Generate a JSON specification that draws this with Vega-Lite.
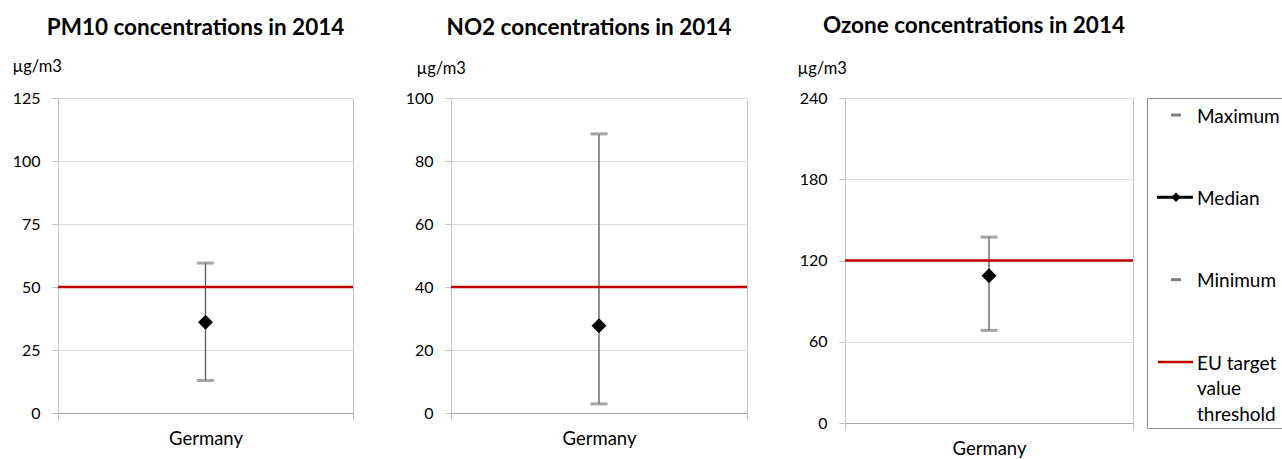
{
  "$schema": "https://vega.github.io/schema/vega-lite/v6.json",
  "background": "white",
  "padding": {"left": 12, "top": 14, "right": 0, "bottom": 0},
  "autosize": {"type": "pad"},
  "config": {
    "font": "Lato",
    "view": {"stroke": null},
    "axisY": {"domain": false, "grid": true, "gridColor": "#d9d9d9", "tickColor": "#bfbfbf", "tickSize": 6, "labelPadding": 12, "labelFontSize": 16, "labelColor": "#000", "titleAngle": 0, "titleAlign": "left", "titleBaseline": "alphabetic", "titleFontWeight": "normal", "titleFontSize": 16.5, "titleColor": "#000"},
    "axisX": {"tickBand": "extent", "grid": true, "gridColor": "#c4c4c4", "tickColor": "#bfbfbf", "tickSize": 7, "domainColor": "#a6a6a6", "labelAngle": 0, "labelPadding": 24, "labelBaseline": "alphabetic", "labelFontSize": 18.5, "labelColor": "#000"},
    "title": {"font": "Lato", "fontSize": 22.5, "fontWeight": "bold", "color": "#000", "frame": "group", "anchor": "middle", "baseline": "alphabetic", "offset": 19}
  },
  "datasets": {
    "stats": [
      {"pollutant": "PM10", "country": "Germany", "min": 12.9, "median": 36, "max": 59.5, "threshold": 50},
      {"pollutant": "NO2", "country": "Germany", "min": 2.9, "median": 27.7, "max": 88.6, "threshold": 40},
      {"pollutant": "Ozone", "country": "Germany", "min": 68.4, "median": 108.7, "max": 137.3, "threshold": 120}
    ],
    "legend": [
      {"label": "Maximum", "kind": "cap"},
      {"label": "Median", "kind": "median"},
      {"label": "Minimum", "kind": "cap"},
      {"label": "EU target\nvalue\nthreshold", "kind": "threshold"}
    ]
  },
  "spacing": 98,
  "bounds": "flush",
  "hconcat": [
    {
      "width": 295, "height": 315,
      "title": {"text": "PM10 concentrations in 2014", "dx": -10},
      "data": {"name": "stats"},
      "transform": [{"filter": "datum.pollutant == 'PM10'"}],
      "layer": [
        {"mark": {"type": "rule", "color": "#595959", "strokeWidth": 1.3},
         "encoding": {
           "x": {"field": "country", "type": "nominal", "title": null, "scale": {"paddingInner": 0, "paddingOuter": 0}},
           "y": {"field": "min", "type": "quantitative", "scale": {"domain": [0, 125], "nice": false}, "axis": {"values": [0, 25, 50, 75, 100, 125], "title": "µg/m3", "titleX": -46, "titleY": -27}},
           "y2": {"field": "max"}}},
        {"mark": {"type": "rule", "color": "#c00000", "strokeWidth": 2.5},
         "encoding": {"y": {"field": "threshold", "type": "quantitative"}}},
        {"mark": {"type": "tick", "color": "#7f7f7f", "thickness": 3, "size": 17, "orient": "horizontal"},
         "encoding": {"x": {"field": "country", "type": "nominal"}, "y": {"field": "max", "type": "quantitative"}}},
        {"mark": {"type": "tick", "color": "#7f7f7f", "thickness": 3, "size": 17, "orient": "horizontal"},
         "encoding": {"x": {"field": "country", "type": "nominal"}, "y": {"field": "min", "type": "quantitative"}}},
        {"mark": {"type": "point", "shape": "diamond", "filled": true, "color": "#000", "size": 225, "opacity": 1},
         "encoding": {"x": {"field": "country", "type": "nominal"}, "y": {"field": "median", "type": "quantitative"}}}
      ]
    },
    {
      "width": 296, "height": 315,
      "title": {"text": "NO2 concentrations in 2014", "dx": -10, "offset": 21},
      "data": {"name": "stats"},
      "transform": [{"filter": "datum.pollutant == 'NO2'"}],
      "layer": [
        {"mark": {"type": "rule", "color": "#595959", "strokeWidth": 1.3},
         "encoding": {
           "x": {"field": "country", "type": "nominal", "title": null, "scale": {"paddingInner": 0, "paddingOuter": 0}},
           "y": {"field": "min", "type": "quantitative", "scale": {"domain": [0, 100], "nice": false}, "axis": {"values": [0, 20, 40, 60, 80, 100], "title": "µg/m3", "titleX": -35, "titleY": -25}},
           "y2": {"field": "max"}}},
        {"mark": {"type": "rule", "color": "#c00000", "strokeWidth": 2.5},
         "encoding": {"y": {"field": "threshold", "type": "quantitative"}}},
        {"mark": {"type": "tick", "color": "#7f7f7f", "thickness": 3, "size": 17, "orient": "horizontal"},
         "encoding": {"x": {"field": "country", "type": "nominal"}, "y": {"field": "max", "type": "quantitative"}}},
        {"mark": {"type": "tick", "color": "#7f7f7f", "thickness": 3, "size": 17, "orient": "horizontal"},
         "encoding": {"x": {"field": "country", "type": "nominal"}, "y": {"field": "min", "type": "quantitative"}}},
        {"mark": {"type": "point", "shape": "diamond", "filled": true, "color": "#000", "size": 225, "opacity": 1},
         "encoding": {"x": {"field": "country", "type": "nominal"}, "y": {"field": "median", "type": "quantitative"}}}
      ]
    },
    {
      "spacing": 14,
      "bounds": "flush",
      "hconcat": [
        {
          "width": 288, "height": 325,
          "title": {"text": "Ozone concentrations in 2014", "dx": -15, "offset": 23},
          "data": {"name": "stats"},
          "transform": [{"filter": "datum.pollutant == 'Ozone'"}],
          "layer": [
            {"mark": {"type": "rule", "color": "#595959", "strokeWidth": 1.3},
             "encoding": {
               "x": {"field": "country", "type": "nominal", "title": null, "scale": {"paddingInner": 0, "paddingOuter": 0}},
               "y": {"field": "min", "type": "quantitative", "scale": {"domain": [0, 240], "nice": false}, "axis": {"values": [0, 60, 120, 180, 240], "title": "µg/m3", "titleX": -48, "titleY": -25}},
               "y2": {"field": "max"}}},
            {"mark": {"type": "rule", "color": "#c00000", "strokeWidth": 2.5},
             "encoding": {"y": {"field": "threshold", "type": "quantitative"}}},
            {"mark": {"type": "tick", "color": "#7f7f7f", "thickness": 3, "size": 17, "orient": "horizontal"},
             "encoding": {"x": {"field": "country", "type": "nominal"}, "y": {"field": "max", "type": "quantitative"}}},
            {"mark": {"type": "tick", "color": "#7f7f7f", "thickness": 3, "size": 17, "orient": "horizontal"},
             "encoding": {"x": {"field": "country", "type": "nominal"}, "y": {"field": "min", "type": "quantitative"}}},
            {"mark": {"type": "point", "shape": "diamond", "filled": true, "color": "#000", "size": 225, "opacity": 1},
             "encoding": {"x": {"field": "country", "type": "nominal"}, "y": {"field": "median", "type": "quantitative"}}}
          ]
        },
        {
          "width": 150, "height": 330,
          "view": {"stroke": "#8c8c8c", "strokeWidth": 1},
          "data": {"name": "legend"},
          "encoding": {
            "y": {"field": "label", "type": "nominal", "sort": null, "scale": {"type": "point", "padding": 0, "domain": ["Maximum", "Median", "Minimum", "EU target\nvalue\nthreshold"], "range": [17, 264]}, "axis": null}
          },
          "layer": [
            {"transform": [{"filter": "datum.kind == 'cap'"}],
             "mark": {"type": "rule", "color": "#7f7f7f", "strokeWidth": 3},
             "encoding": {"x": {"datum": 24, "type": "quantitative", "scale": {"domain": [0, 150], "nice": false}, "axis": null}, "x2": {"datum": 34}}},
            {"transform": [{"filter": "datum.kind == 'median'"}],
             "mark": {"type": "rule", "color": "#000", "strokeWidth": 3},
             "encoding": {"x": {"datum": 10, "type": "quantitative"}, "x2": {"datum": 46}}},
            {"transform": [{"filter": "datum.kind == 'median'"}],
             "mark": {"type": "point", "shape": "diamond", "filled": true, "color": "#000", "size": 90, "opacity": 1},
             "encoding": {"x": {"datum": 29, "type": "quantitative"}}},
            {"transform": [{"filter": "datum.kind == 'threshold'"}],
             "mark": {"type": "rule", "color": "#c00000", "strokeWidth": 2.5},
             "encoding": {"x": {"datum": 11, "type": "quantitative"}, "x2": {"datum": 46}}},
            {"mark": {"type": "text", "align": "left", "baseline": "alphabetic", "dy": 7.5, "fontSize": 19, "lineBreak": "\n", "lineHeight": 25.5, "color": "#000"},
             "encoding": {"x": {"datum": 50, "type": "quantitative"}, "text": {"field": "label"}}}
          ]
        }
      ]
    }
  ]
}
